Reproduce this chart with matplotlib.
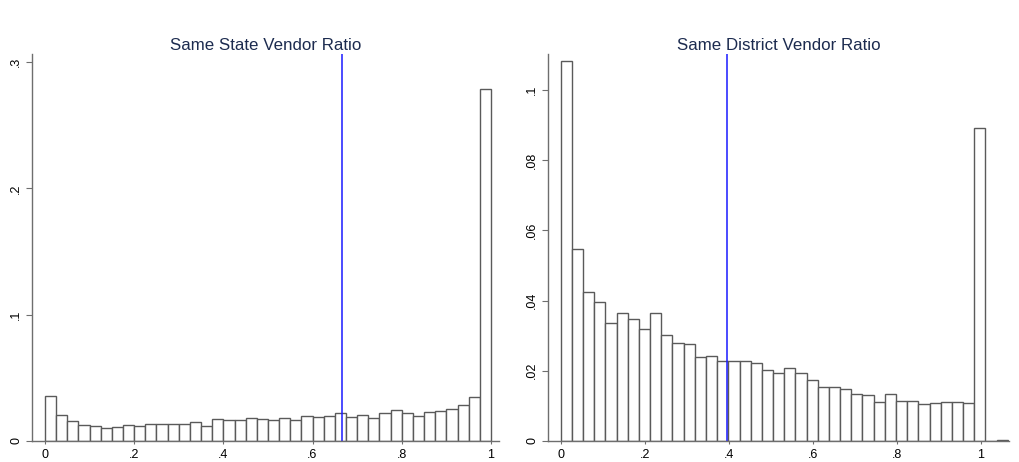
import matplotlib.pyplot as plt
from matplotlib.ticker import FuncFormatter

plt.rcParams['font.family'] = ['Liberation Sans', 'DejaVu Sans']

# density per bin
state_width = 0.025
state_density = [0.0356, 0.0206, 0.0156, 0.0124, 0.0119, 0.0100, 0.0113, 0.0124,
                 0.0119, 0.0132, 0.0132, 0.0132, 0.0132, 0.0150, 0.0119, 0.0174,
                 0.0169, 0.0169, 0.0180, 0.0174, 0.0169, 0.0180, 0.0164, 0.0200,
                 0.0187, 0.0198, 0.0219, 0.0193, 0.0203, 0.0180, 0.0219, 0.0243,
                 0.0219, 0.0200, 0.0227, 0.0237, 0.0256, 0.0285, 0.0346, 0.2790]
state_mean = 0.667

district_width = 0.0266
district_density = [0.1083, 0.0548, 0.0424, 0.0395, 0.0337, 0.0366, 0.0347, 0.0318,
                    0.0366, 0.0301, 0.0279, 0.0277, 0.0240, 0.0243, 0.0227, 0.0227,
                    0.0227, 0.0222, 0.0202, 0.0193, 0.0208, 0.0195, 0.0173, 0.0155,
                    0.0155, 0.0147, 0.0135, 0.0130, 0.0111, 0.0134, 0.0114, 0.0114,
                    0.0106, 0.0108, 0.0111, 0.0111, 0.0108, 0.0891, 0.0, 0.0003]
district_mean = 0.396

x_ticks = [0, 0.2, 0.4, 0.6, 0.8, 1]
state_yticks = [0, 0.1, 0.2, 0.3]
district_yticks = [0, 0.02, 0.04, 0.06, 0.08, 0.1]


def stata_fmt(v, pos=None):
    s = f"{v:.2f}".rstrip('0').rstrip('.')
    if s.startswith('0.'):
        s = s[1:]
    return s


def draw(ax, density, width, mean, title, yticks, xlim, ylim):
    lefts = [i * width for i in range(len(density))]
    ax.bar(lefts, density, width=width, align='edge', color='white',
           edgecolor='#5a5a5a', linewidth=1.0)
    ax.axvline(mean, color='#1a1aff', linewidth=1.1)
    ax.set_xlim(*xlim)
    ax.set_ylim(*ylim)
    ax.set_xticks(x_ticks)
    ax.set_yticks(yticks)
    ax.xaxis.set_major_formatter(FuncFormatter(stata_fmt))
    ax.yaxis.set_major_formatter(FuncFormatter(stata_fmt))
    for lab in ax.get_yticklabels():
        lab.set_rotation(90)
        lab.set_va('center')
    ax.tick_params(labelsize=9, color='#6e6e6e', width=0.8)
    ax.tick_params(axis='y', length=4, pad=3)
    ax.tick_params(axis='x', length=2.5, pad=3)
    ax.spines['top'].set_visible(False)
    ax.spines['right'].set_visible(False)
    for s in ('left', 'bottom'):
        ax.spines[s].set_color('#6e6e6e')
        ax.spines[s].set_linewidth(1.0)
    ax.set_title(title, color='#1c2b4f', fontsize=12.2, pad=3)


fig = plt.figure(figsize=(10.2, 4.62), dpi=100)
ax1 = fig.add_axes([0.0314, 0.0455, 0.4578, 0.8377])
ax2 = fig.add_axes([0.5373, 0.0455, 0.452, 0.8377])

draw(ax1, state_density, state_width, state_mean, "Same State Vendor Ratio",
     state_yticks, (-0.029, 1.018), (0, 0.3064))
draw(ax2, district_density, district_width, district_mean, "Same District Vendor Ratio",
     district_yticks, (-0.030, 1.067), (0, 0.1103))

fig.savefig("out.png", dpi=100)
